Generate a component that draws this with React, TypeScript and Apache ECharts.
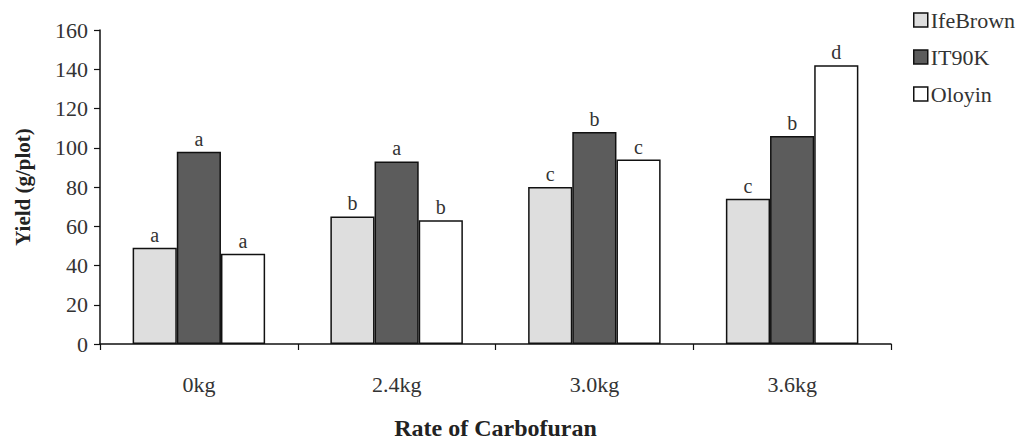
import React, { useEffect, useRef } from "react";
import * as echarts from "echarts";

const categories = ["0kg", "2.4kg", "3.0kg", "3.6kg"];
const seriesNames = ["IfeBrown", "IT90K", "Oloyin"];
const ifeBrown = [49, 65, 80, 74];
const it90k = [98, 93, 108, 106];
const oloyin = [46, 63, 94, 142];
const ifeBrownLetters = ["a", "b", "c", "c"];
const it90kLetters = ["a", "a", "b", "b"];
const oloyinLetters = ["a", "b", "c", "d"];
const yTicks = [0, 20, 40, 60, 80, 100, 120, 140, 160];

const FONT = "Liberation Serif";

export default function App() {
  const ref = useRef<HTMLDivElement>(null);
  useEffect(() => {
    if (!ref.current) return;
    const chart = echarts.init(ref.current, null, { renderer: "svg" });
    const fills = ["#dedede", "#5c5c5c", "#ffffff"];
    const values = [ifeBrown, it90k, oloyin];
    const letters = [ifeBrownLetters, it90kLetters, oloyinLetters];
    chart.setOption({
      animation: false,
      backgroundColor: "#ffffff",
      textStyle: { fontFamily: FONT, color: "#222" },
      legend: {
        orient: "vertical",
        left: 908,
        top: 4,
        itemWidth: 14,
        itemHeight: 14,
        itemGap: 15,
        itemStyle: { borderColor: "#111", borderWidth: 1.5 },
        icon: "rect",
        textStyle: { fontFamily: FONT, fontSize: 22, color: "#333", padding: [0, 0, 0, -2] },
        data: seriesNames,
      },
      grid: { left: 100, right: 142, top: 30, bottom: 101, containLabel: false },
      xAxis: {
        type: "category",
        data: categories,
        name: "Rate of Carbofuran",
        nameLocation: "middle",
        nameGap: 72,
        nameTextStyle: { fontFamily: FONT, fontSize: 24, fontWeight: "bold", color: "#222" },
        axisLine: { lineStyle: { color: "#111", width: 1.5 } },
        axisTick: { show: true, alignWithLabel: false, length: 6, lineStyle: { color: "#111", width: 1.2 } },
        axisLabel: { fontFamily: FONT, fontSize: 22, color: "#333", margin: 29 },
      },
      yAxis: {
        type: "value",
        min: 0,
        max: 160,
        interval: 20,
        name: "Yield (g/plot)",
        nameLocation: "middle",
        nameGap: 67,
        nameRotate: 90,
        nameTextStyle: { fontFamily: FONT, fontSize: 21, fontWeight: "bold", color: "#222" },
        axisLine: { show: true, lineStyle: { color: "#111", width: 1.5 } },
        axisTick: { show: true, inside: false, length: 6, lineStyle: { color: "#111", width: 1.2 } },
        axisLabel: {
          fontFamily: FONT,
          fontSize: 22,
          color: "#333",
          margin: 12,
          formatter: (v: number) => (yTicks.includes(v) ? String(v) : ""),
        },
        splitLine: { show: false },
      },
      series: seriesNames.map((name, i) => ({
        name,
        type: "bar",
        data: values[i],
        barGap: "0%",
        barCategoryGap: "33%",
        itemStyle: { color: fills[i], borderColor: "#111", borderWidth: 1.5 },
        label: {
          show: true,
          position: "top",
          distance: 3,
          fontFamily: FONT,
          fontSize: 20,
          color: "#333",
          formatter: (p: any) => letters[i][p.dataIndex],
        },
      })),
    });
    return () => chart.dispose();
  }, []);
  return <div ref={ref} style={{ width: 1033, height: 445, position: "absolute", left: 0, top: 0 }} />;
}
